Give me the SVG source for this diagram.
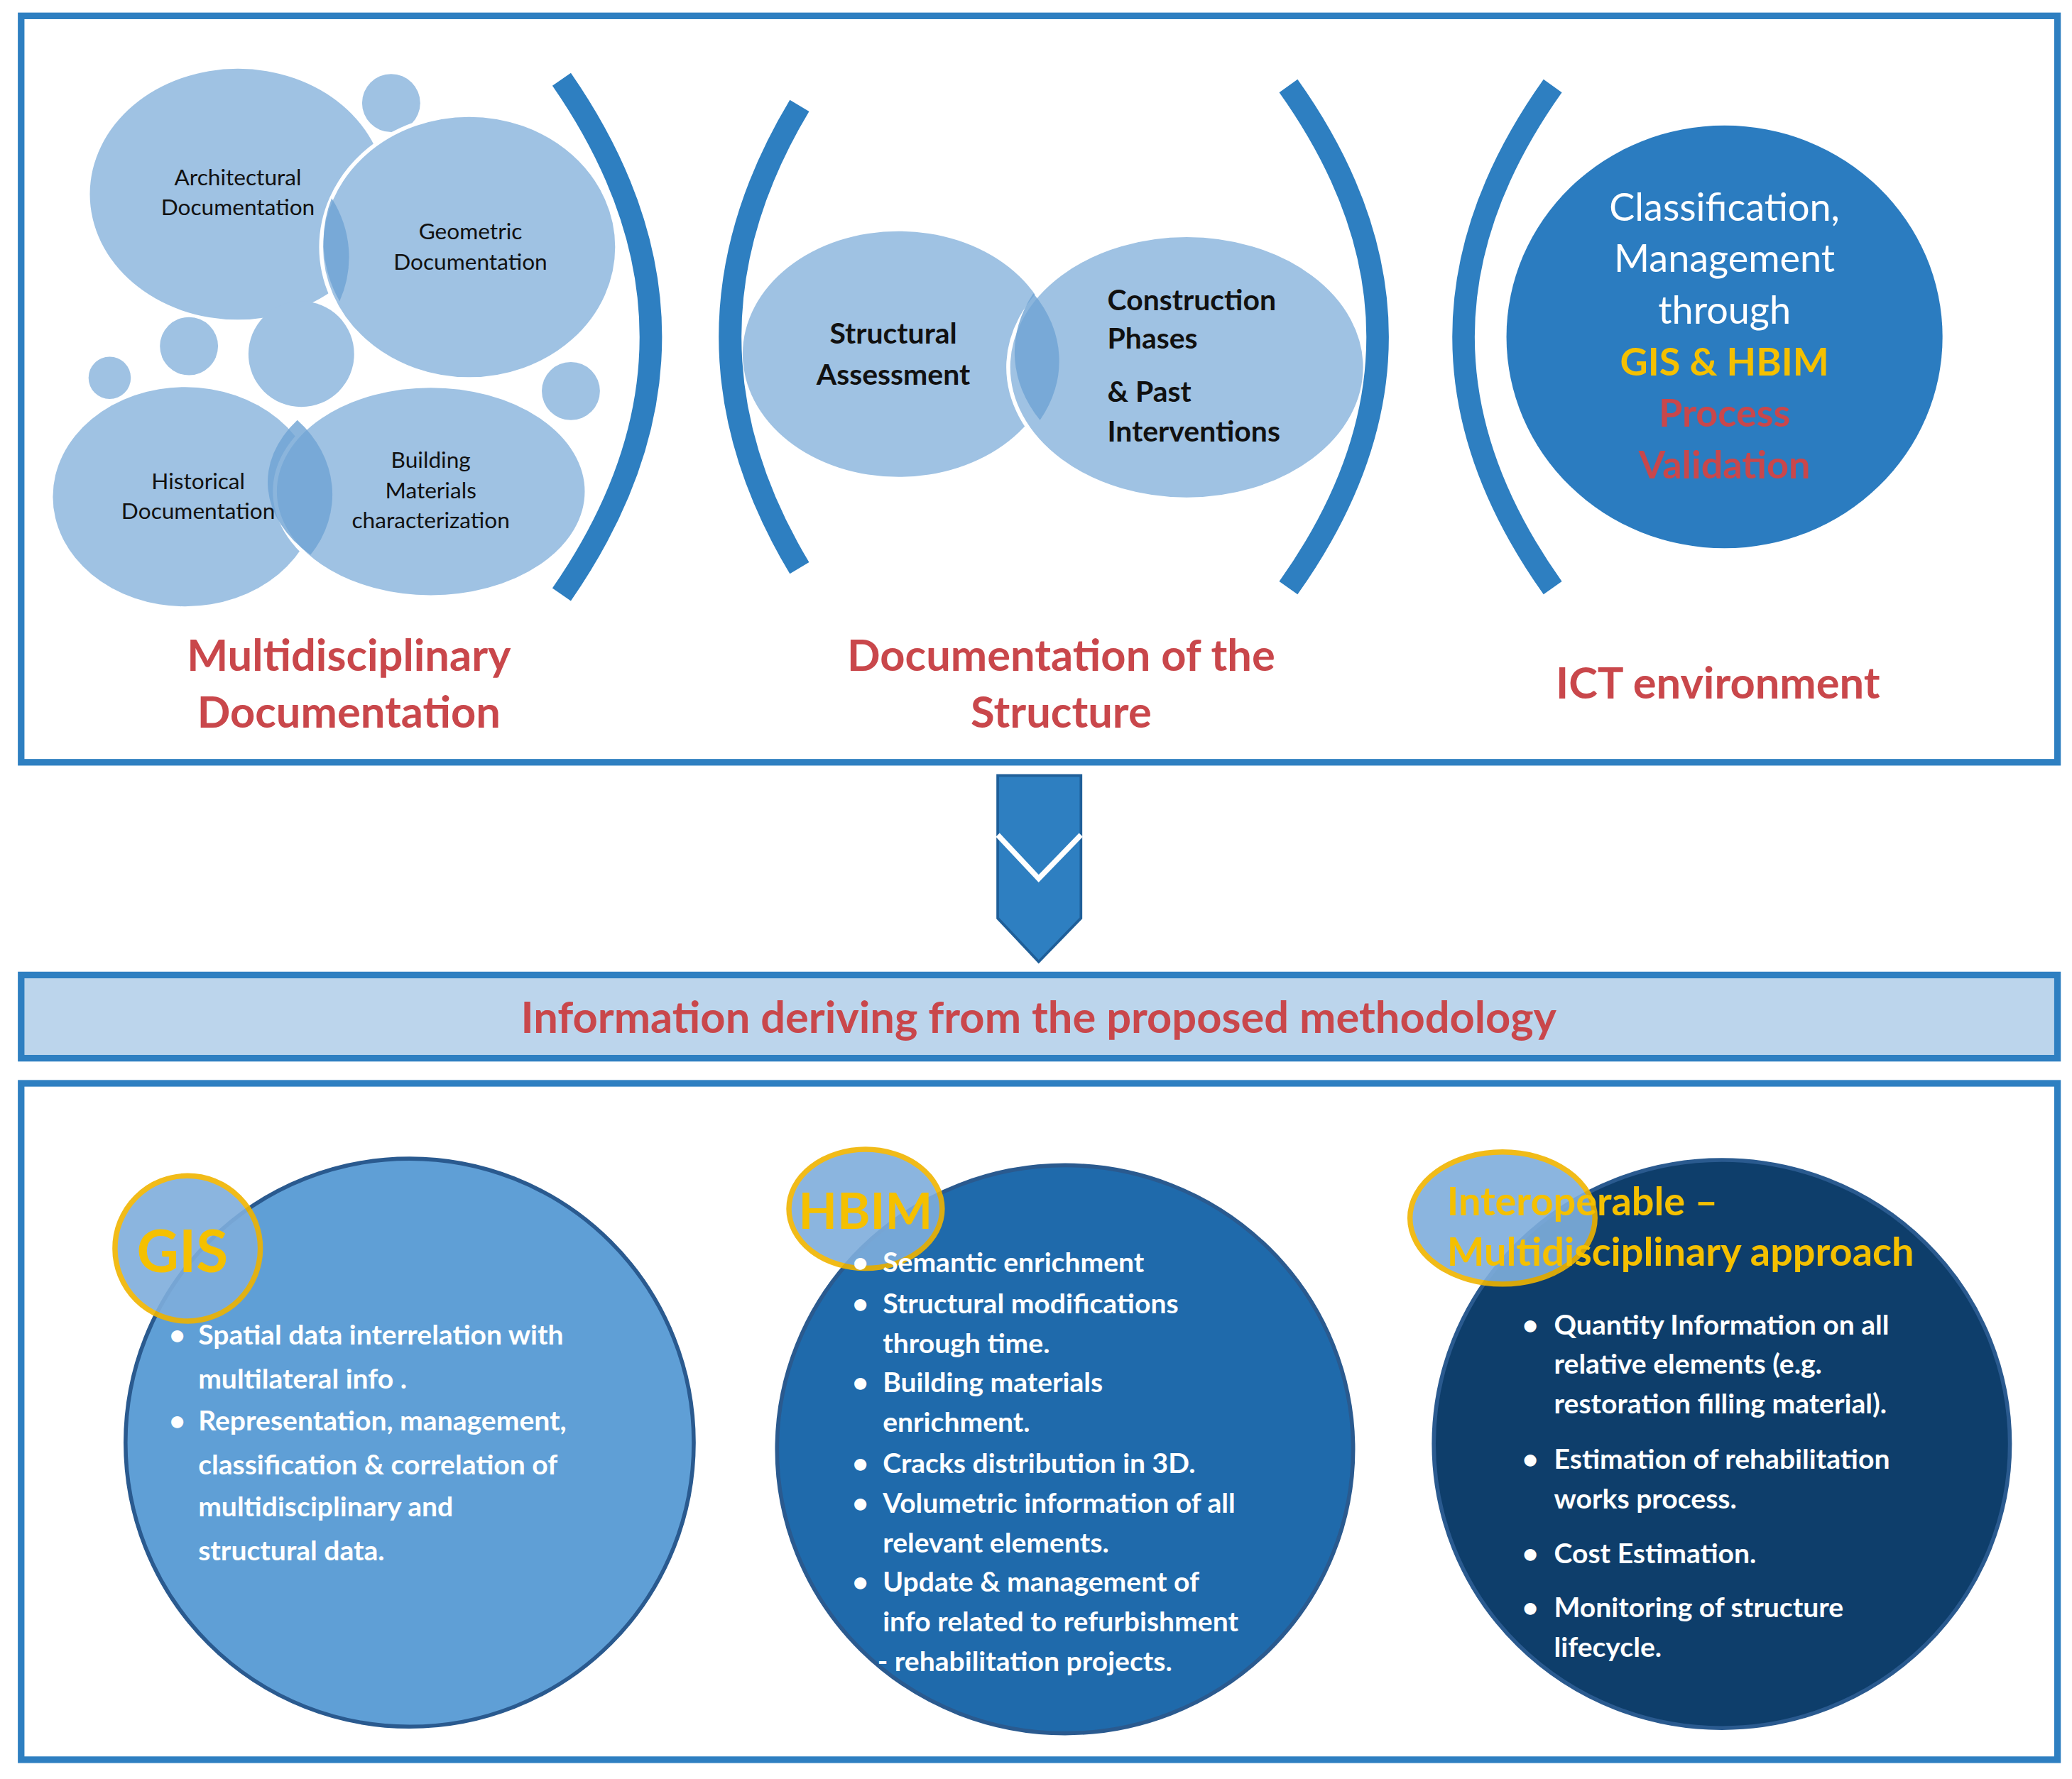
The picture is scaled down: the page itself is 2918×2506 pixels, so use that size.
<svg xmlns="http://www.w3.org/2000/svg" width="2918" height="2506" viewBox="0 0 2918 2506">
<style>
text{font-family:Lato,"Open Sans","Liberation Sans",sans-serif;}
.lb{fill:#9fc2e3}
.ov{fill:#6ea2d3}
.br{fill:none;stroke:#2e7fc1;stroke-width:17}
.box{fill:#fff;stroke:#2e7fc1;stroke-width:5}
.k{fill:#111;font-size:17px;text-anchor:middle}
.k2{fill:#111;font-size:22px;font-weight:bold}
.red{fill:#c9474b;font-size:33px;font-weight:bold;text-anchor:middle}
.w{fill:#fff;font-size:21px;font-weight:bold}
.y{fill:#f5c000;font-weight:bold}
</style>
<rect width="2918" height="2506" fill="#fff"/>
<g transform="scale(1.861)">
<rect class="box" x="16" y="12" width="1541" height="565"/>
<rect class="box" x="16" y="820" width="1541" height="512"/>
<g id="multidisciplinary">
<circle class="lb" cx="296" cy="78" r="22"/>
<ellipse class="lb" cx="180" cy="147" rx="112" ry="95"/>
<circle class="lb" cx="228" cy="268" r="40"/>
<circle class="lb" cx="143" cy="262" r="22"/>
<circle class="lb" cx="83" cy="286" r="16"/>
<circle class="lb" cx="432" cy="296" r="22"/>
<ellipse class="lb" cx="355" cy="187" rx="112" ry="100" stroke="#fff" stroke-width="3"/>
<path class="ov" d="M251,150 A112,95 0 0 1 257,228 A112,100 0 0 1 251,150 Z" opacity="0.8"/>
<ellipse class="lb" cx="140" cy="376" rx="100" ry="83"/>
<ellipse class="lb" cx="326" cy="372" rx="118" ry="80" stroke="#fff" stroke-width="3"/>
<path class="ov" d="M225,318 A100,83 0 0 1 235,420 A118,80 0 0 1 225,318 Z" opacity="0.8"/>
<text class="k" x="180" y="140">Architectural</text>
<text class="k" x="180" y="163">Documentation</text>
<text class="k" x="356" y="181">Geometric</text>
<text class="k" x="356" y="204">Documentation</text>
<text class="k" x="150" y="370">Historical</text>
<text class="k" x="150" y="393">Documentation</text>
<text class="k" x="326" y="354">Building</text>
<text class="k" x="326" y="377">Materials</text>
<text class="k" x="326" y="400">characterization</text>
<text class="red" x="264" y="508">Multidisciplinary</text>
<text class="red" x="264" y="551">Documentation</text>
</g>
<g id="structure">
<ellipse class="lb" cx="680" cy="268" rx="118" ry="93"/>
<ellipse class="lb" cx="898" cy="278" rx="135" ry="100" stroke="#fff" stroke-width="3"/>
<path class="ov" d="M782,222 A118,93 0 0 1 787,318 A135,100 0 0 1 782,222 Z" opacity="0.8"/>
<text class="k2" x="676" y="260" text-anchor="middle">Structural</text>
<text class="k2" x="676" y="291" text-anchor="middle">Assessment</text>
<text class="k2" x="838" y="235">Construction</text>
<text class="k2" x="838" y="264">Phases</text>
<text class="k2" x="838" y="304">&amp; Past</text>
<text class="k2" x="838" y="334">Interventions</text>
<text class="red" x="803" y="508">Documentation of the</text>
<text class="red" x="803" y="551">Structure</text>
</g>
<g id="ict">
<ellipse cx="1305" cy="255" rx="165" ry="160" fill="#2b7cc0"/>
<g font-size="29" text-anchor="middle">
<text x="1305" y="167" fill="#fff">Classification,</text>
<text x="1305" y="206" fill="#fff">Management</text>
<text x="1305" y="245" fill="#fff">through</text>
<text class="y" x="1305" y="284">GIS &amp; HBIM</text>
<text x="1305" y="323" fill="#c9474b" font-weight="bold">Process</text>
<text x="1305" y="362" fill="#c9474b" font-weight="bold">Validation</text>
</g>
<text class="red" x="1300" y="529">ICT environment</text>
</g>
<g id="connectors">
<path class="br" d="M425,60 Q560,255 425,450"/>
<path class="br" d="M605,80 Q500,255 605,430"/>
<path class="br" d="M975,65 Q1110,255 975,445"/>
<path class="br" d="M1175,65 Q1040,255 1175,445"/>
<polygon points="755,587 818,587 818,695 786,728 755,695" fill="#2e7fc1" stroke="#1f5f99" stroke-width="2"/>
<polyline points="755,632 786,665 818,632" fill="none" stroke="#fff" stroke-width="4"/>
</g>
<g id="banner">
<rect x="16" y="738" width="1541" height="63" fill="#bcd5ec" stroke="#2e7fc1" stroke-width="5"/>
<text class="red" x="786" y="782" font-size="35">Information deriving from the proposed methodology</text>
</g>
<g id="gis">
<ellipse cx="310" cy="1092" rx="215" ry="215" fill="#5f9fd6" stroke="#2a5a8f" stroke-width="3"/>
<circle cx="142" cy="945" r="55" fill="#7faedc" stroke="#f0b400" stroke-width="4" opacity="0.9"/>
<text class="y" x="138" y="963" font-size="44" text-anchor="middle">GIS</text>
<text class="w" x="128" y="1018">•</text><text class="w" x="150" y="1018">Spatial data interrelation with</text>
<text class="w" x="150" y="1051">multilateral info .</text>
<text class="w" x="128" y="1083">•</text><text class="w" x="150" y="1083">Representation,  management,</text>
<text class="w" x="150" y="1116">classification &amp; correlation  of</text>
<text class="w" x="150" y="1148">multidisciplinary and</text>
<text class="w" x="150" y="1181">structural data.</text>
</g>
<g id="hbim">
<ellipse cx="806" cy="1097" rx="218" ry="215" fill="#1f6aab" stroke="#2a5a8f" stroke-width="3"/>
<ellipse cx="655" cy="915" rx="58" ry="45" fill="#7faedc" stroke="#f0b400" stroke-width="4" opacity="0.9"/>
<text class="y" x="655" y="930" font-size="38" text-anchor="middle">HBIM</text>
<g class="w">
<text x="645" y="963">•</text><text x="668" y="963">Semantic enrichment</text>
<text x="645" y="994">•</text><text x="668" y="994">Structural modifications</text>
<text x="668" y="1024">through time.</text>
<text x="645" y="1054">•</text><text x="668" y="1054">Building materials</text>
<text x="668" y="1084">enrichment.</text>
<text x="645" y="1115">•</text><text x="668" y="1115">Cracks distribution in 3D.</text>
<text x="645" y="1145">•</text><text x="668" y="1145">Volumetric information of all</text>
<text x="668" y="1175">relevant elements.</text>
<text x="645" y="1205">•</text><text x="668" y="1205">Update &amp; management of</text>
<text x="668" y="1235">info related to refurbishment</text>
<text x="664" y="1265">- rehabilitation projects.</text>
</g>
</g>
<g id="interoperable">
<ellipse cx="1303" cy="1093" rx="218" ry="215" fill="#0e3e6b" stroke="#2a5a8f" stroke-width="3"/>
<ellipse cx="1137" cy="922" rx="70" ry="50" fill="#7faedc" stroke="#f0b400" stroke-width="4" opacity="0.9"/>
<text class="y" x="1095" y="920" font-size="30">Interoperable –</text>
<text class="y" x="1095" y="958" font-size="30">Multidisciplinary approach</text>
<g class="w">
<text x="1152" y="1010">•</text><text x="1176" y="1010">Quantity Information  on all</text>
<text x="1176" y="1040">relative elements (e.g.</text>
<text x="1176" y="1070">restoration filling material).</text>
<text x="1152" y="1112">•</text><text x="1176" y="1112">Estimation of rehabilitation</text>
<text x="1176" y="1142">works process.</text>
<text x="1152" y="1183">•</text><text x="1176" y="1183">Cost Estimation.</text>
<text x="1152" y="1224">•</text><text x="1176" y="1224">Monitoring of structure</text>
<text x="1176" y="1254">lifecycle.</text>
</g>
</g>
</g>
</svg>
